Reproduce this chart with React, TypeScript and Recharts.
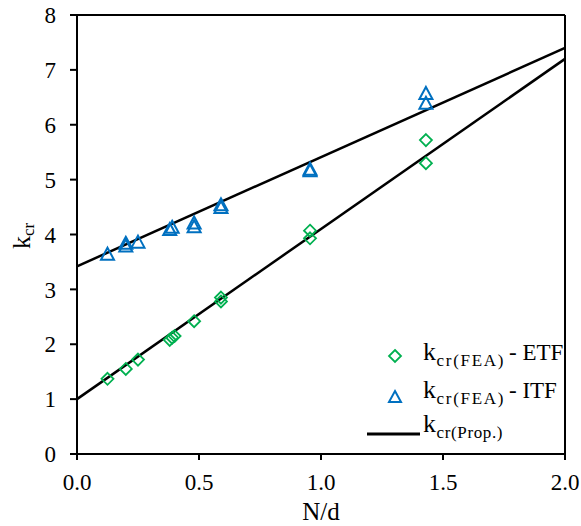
import React from 'react';
import { ScatterChart, Scatter, XAxis, YAxis, ReferenceLine } from 'recharts';

const etfX = [0.125, 0.2, 0.25, 0.38, 0.39, 0.4, 0.48, 0.59, 0.59, 0.955, 0.955, 1.43, 1.43];
const etfY = [1.37, 1.55, 1.72, 2.08, 2.12, 2.15, 2.42, 2.85, 2.78, 4.07, 3.93, 5.72, 5.3];
const itfX = [0.125, 0.2, 0.2, 0.25, 0.38, 0.39, 0.48, 0.48, 0.59, 0.59, 0.955, 0.955, 1.43, 1.43];
const itfY = [3.65, 3.8, 3.85, 3.87, 4.1, 4.14, 4.15, 4.22, 4.5, 4.55, 5.2, 5.17, 6.4, 6.58];
const propX = [0, 2];
const propItfY = [3.42, 7.4];
const propEtfY = [1.0, 7.2];
const xTicks = [0, 0.5, 1, 1.5, 2];
const yTicks = [0, 1, 2, 3, 4, 5, 6, 7, 8];

const etfData = etfX.map((x, i) => ({ x, y: etfY[i] }));
const itfData = itfX.map((x, i) => ({ x, y: itfY[i] }));
const lineItf = propX.map((x, i) => ({ x, y: propItfY[i] }));
const lineEtf = propX.map((x, i) => ({ x, y: propEtfY[i] }));

const GREEN = '#00B050';
const BLUE = '#0070C0';
const FONT = "'Liberation Serif', serif";
const fontStyle = { fontFamily: FONT };
const K_SIZE = 26;
const SUB_SIZE = 17;
const MAIN_SIZE = 23;

const Diamond = (p: any) => {
  const { cx, cy } = p;
  const r = 6;
  return <path d={`M${cx},${cy - r}L${cx + r},${cy}L${cx},${cy + r}L${cx - r},${cy}Z`} fill="none" stroke={GREEN} strokeWidth={1.8} />;
};
const Triangle = (p: any) => {
  const { cx, cy } = p;
  const w = 6.5, h = 6;
  return <path d={`M${cx},${cy - h}L${cx + w},${cy + h}L${cx - w},${cy + h}Z`} fill="none" stroke={BLUE} strokeWidth={2} />;
};
const NoShape = () => null;

const YLabel = () => (
  <text transform="translate(30,236) rotate(-90)" style={fontStyle} fill="#000" textAnchor="middle">
    <tspan fontSize={K_SIZE}>k</tspan>
    <tspan fontSize={SUB_SIZE} dy={4}>cr</tspan>
  </text>
);
const XLabel = () => (
  <text x={321} y={520} style={fontStyle} fontSize={25} fill="#000" textAnchor="middle">N/d</text>
);

const fmtX = (v: number) => v.toFixed(1);

const LegendText = ({ x, y, sub, subLen, tail }: { x: number; y: number; sub: string; subLen: number; tail?: string }) => (
  <g style={fontStyle} fill="#000">
    <text x={x} y={y} fontSize={K_SIZE}>k</text>
    <text x={x + 13.5} y={y + 6} fontSize={SUB_SIZE} textLength={subLen} lengthAdjust="spacing">{sub}</text>
    {tail ? <text x={x + 86} y={y} fontSize={MAIN_SIZE}>{tail}</text> : null}
  </g>
);

export default function App() {
  return (
    <div style={{ position: 'absolute', left: 0, top: 0, width: 581, height: 526, background: '#fff', fontFamily: FONT }}>
      <ScatterChart width={581} height={526} margin={{ top: 15, right: 16, left: 0, bottom: 0 }} style={fontStyle}>
        <XAxis
          type="number"
          dataKey="x"
          domain={[0, 2]}
          ticks={xTicks}
          tickFormatter={fmtX}
          height={72}
          stroke="#000"
          strokeWidth={2}
          tickSize={6}
          tickMargin={14}
          tick={{ fill: '#000', fontSize: MAIN_SIZE, style: fontStyle }}
          label={{ content: XLabel }}
        />
        <YAxis
          type="number"
          dataKey="y"
          domain={[0, 8]}
          ticks={yTicks}
          width={77}
          stroke="#000"
          strokeWidth={2}
          tickSize={7}
          tickMargin={14}
          tick={{ fill: '#000', fontSize: MAIN_SIZE, style: fontStyle }}
          label={{ content: YLabel }}
        />
        <ReferenceLine y={8} stroke="#000" strokeWidth={2} />
        <ReferenceLine x={2} stroke="#000" strokeWidth={2} />
        <Scatter data={lineItf} line={{ stroke: '#000', strokeWidth: 2.5 }} shape={NoShape} isAnimationActive={false} />
        <Scatter data={lineEtf} line={{ stroke: '#000', strokeWidth: 2.5 }} shape={NoShape} isAnimationActive={false} />
        <Scatter data={etfData} shape={Diamond} isAnimationActive={false} />
        <Scatter data={itfData} shape={Triangle} isAnimationActive={false} />
      </ScatterChart>
      <svg style={{ position: 'absolute', left: 0, top: 0, fontFamily: FONT }} width={581} height={526} pointerEvents="none">
        <path d="M395,350L401,356L395,362L389,356Z" fill="none" stroke={GREEN} strokeWidth={1.8} />
        <LegendText x={423} y={360} sub="cr(FEA)" subLen={67} tail="- ETF" />
        <path d="M395,391L401,402L389,402Z" fill="none" stroke={BLUE} strokeWidth={2} />
        <LegendText x={423} y={398} sub="cr(FEA)" subLen={67} tail="- ITF" />
        <line x1={367} y1={434} x2={420} y2={434} stroke="#000" strokeWidth={3} />
        <LegendText x={423} y={432} sub="cr(Prop.)" subLen={66} />
      </svg>
    </div>
  );
}
